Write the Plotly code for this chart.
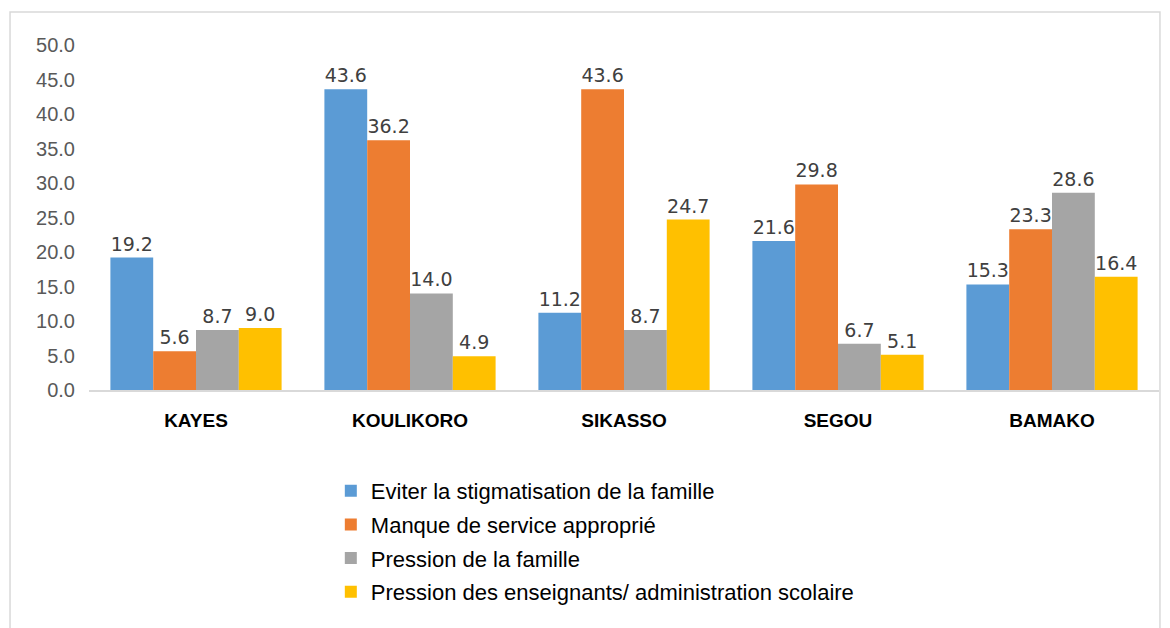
import plotly.graph_objects as go

regions = ["KAYES", "KOULIKORO", "SIKASSO", "SEGOU", "BAMAKO"]
series_names = [
    "Eviter la stigmatisation de la famille",
    "Manque de service approprié",
    "Pression de la famille",
    "Pression des enseignants/ administration scolaire",
]
eviter = [19.2, 43.6, 11.2, 21.6, 15.3]
manque = [5.6, 36.2, 43.6, 29.8, 23.3]
pression_famille = [8.7, 14.0, 8.7, 6.7, 28.6]
pression_ens = [9.0, 4.9, 24.7, 5.1, 16.4]
y_ticks = [0, 5, 10, 15, 20, 25, 30, 35, 40, 45, 50]

colors = ["#5b9bd5", "#ed7d31", "#a5a5a5", "#ffc000"]
FONT = "Liberation Sans, Arial, sans-serif"
LABEL_FONT = "DejaVu Sans, sans-serif"

fig = go.Figure()
for i, (name, vals) in enumerate(zip(series_names, [eviter, manque, pression_famille, pression_ens])):
    fig.add_trace(go.Bar(
        x=regions, y=vals, name=name,
        marker=dict(color=colors[i], line=dict(width=0)),
        text=[f"{v:.1f}" for v in vals], textposition="outside",
        textfont=dict(family=LABEL_FONT, size=19, color="#404040"),
        cliponaxis=False, legendgroup=f"g{i}",
    ))

fig.update_layout(
    width=1162, height=620,
    margin=dict(l=81, r=11, t=37, b=238),
    paper_bgcolor="white", plot_bgcolor="white",
    barmode="group", bargap=0.2, bargroupgap=0,
    showlegend=True,
    legend=dict(
        x=0.226, y=-0.232, xanchor="left", yanchor="top",
        font=dict(family=FONT, size=22, color="#000000"),
        tracegroupgap=2, itemsizing="constant",
    ),
    xaxis=dict(
        showline=True, linecolor="#d9d9d9", linewidth=1.5,
        ticks="", tickfont=dict(family=FONT, size=19, color="#000000", weight="bold"),
        showgrid=False, ticklabelstandoff=12,
    ),
    yaxis=dict(
        range=[0, 50], tickvals=y_ticks, ticktext=[f"{v:.1f}" for v in y_ticks],
        showgrid=False, zeroline=False, showline=False, ticks="",
        tickfont=dict(family=FONT, size=20, color="#595959"),
        ticklabelstandoff=13,
    ),
    shapes=[dict(
        type="rect", xref="paper", yref="paper",
        x0=-0.0738, x1=1.0009, y0=-0.72, y1=1.0957,
        line=dict(color="#d9d9d9", width=1.5), fillcolor="rgba(0,0,0,0)", layer="below",
    )],
)

fig.write_html("out.html")
